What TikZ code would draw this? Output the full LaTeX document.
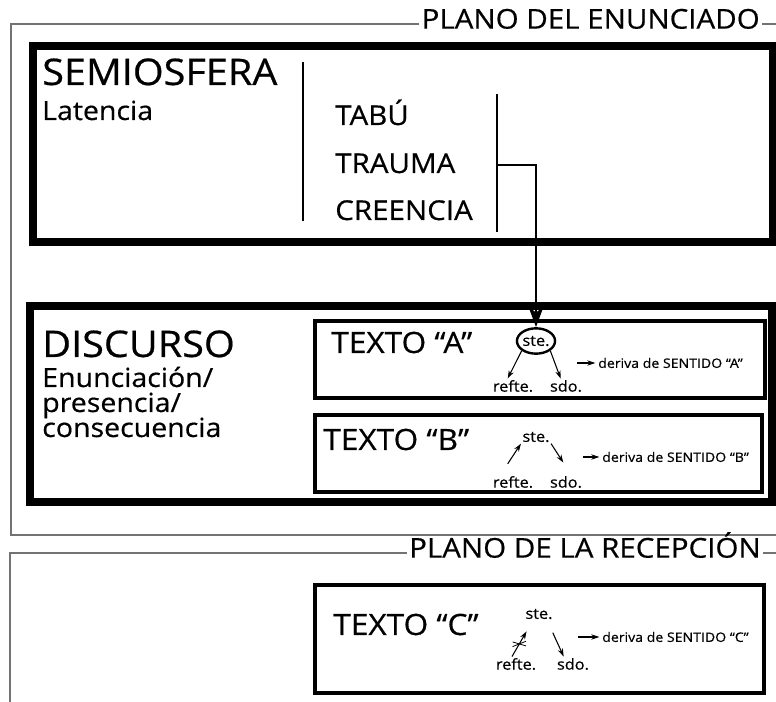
\documentclass[tikz,border=0pt]{standalone}
\usepackage{fontspec}
\setmainfont{Open Sans}[FakeStretch=1.08,FakeBold=0.5]
\usetikzlibrary{arrows.meta,shapes.geometric}

\tikzset{
  frame/.style={line width=1pt, black!55},
  bigbox/.style={line width=5.4pt},
  txtbox/.style={line width=3.4pt},
  bar/.style={line width=2.2pt},
  link/.style={line width=2.2pt, -{Stealth[length=15pt,width=11pt,inset=4pt]}},
  sarr/.style={line width=0.8pt, -{Stealth[length=6pt,width=4pt]}},
  plano/.style={inner sep=1.5pt, text height=0.7em, text depth=0pt, font=\fontsize{20.5}{20.5}\selectfont},
  lbl/.style={inner sep=0pt, anchor=base west},
  huge/.style={lbl, font=\fontsize{27.5}{27.5}\selectfont},
  sub/.style={lbl, font=\fontsize{19.8}{19.8}\selectfont},
  item/.style={lbl, font=\fontsize{20.5}{20.5}\selectfont},
  texto/.style={lbl, font=\fontsize{22}{22}\selectfont},
  sig/.style={inner sep=1pt, font=\fontsize{11.3}{11.3}\selectfont},
  deriva/.style={inner sep=0pt, anchor=west, font=\fontsize{9.8}{9.8}\selectfont},
}

\begin{document}
\begin{tikzpicture}[x=0.75pt,y=-0.75pt]
    \useasboundingbox (0,0) rectangle (776,702);

    % plano del enunciado
    \node[plano, anchor=east] (plano1) at (762,24) {PLANO DEL ENUNCIADO};
    \draw[frame] (plano1.west) -| (11,535) -- (776,535);
    \draw[frame] (plano1.east) -- (776,24);

    % semiosfera
    \draw[bigbox] (33,46) rectangle (773,242);
    \node[huge] (semiosfera) at (42,85) {SEMIOSFERA};
    \node[sub] (latencia) at (42,120) {Latencia};
    \draw[bar] (303,62) -- (303,221);
    \node[item] (tabu) at (335,125) {TABÚ};
    \node[item] (trauma) at (335,173) {TRAUMA};
    \node[item] (creencia) at (335,220) {CREENCIA};
    \draw[bar] (497,94) -- (497,232);
    \coordinate (branch) at (496,165);

    % discurso
    \draw[bigbox] (30,306) rectangle (772,502);
    \node[huge] (discurso) at (42,357) {DISCURSO};
    \node[sub] (enunciacion) at (42,387) {Enunciación/};
    \node[sub] (presencia) at (42,412) {presencia/};
    \node[sub] (consecuencia) at (42,437) {consecuencia};

    % texto A
    \draw[txtbox] (315,321) rectangle (765,398);
    \node[texto] (textoA) at (331,353) {TEXTO “A”};
    \node[sig, draw, ellipse, line width=1.8pt, minimum width=24pt, minimum height=19pt, inner sep=0pt] (steA) at (536,341) {ste.};
    \node[sig] (refteA) at (513,386) {refte.};
    \node[sig] (sdoA) at (566,386) {sdo.};
    \draw[sarr] (steA.south west) -- ([xshift=-4pt]refteA.north);
    \draw[sarr] (steA.south east) -- ([xshift=-4pt]sdoA.north);
    \coordinate (dA) at (577,363);
    \node[deriva] (derivaA) at (598,363) {deriva de SENTIDO “A”};
    \draw[sarr] (dA) -- ([xshift=-2pt]derivaA.west);
    \draw[link] (branch) -| (steA.north);

    % texto B
    \draw[txtbox] (315,415) rectangle (762,492);
    \node[texto] (textoB) at (323,450) {TEXTO “B”};
    \node[sig] (steB) at (536,437) {ste.};
    \node[sig] (refteB) at (513,482) {refte.};
    \node[sig] (sdoB) at (566,482) {sdo.};
    \draw[sarr] ([shift={(-4pt,8pt)}]refteB.north) -- (steB.south west);
    \draw[sarr] (steB.south east) -- ([shift={(-2pt,9pt)}]sdoB.north);
    \coordinate (dB) at (583,457);
    \node[deriva] (derivaB) at (602,457) {deriva de SENTIDO “B”};
    \draw[sarr] (dB) -- ([xshift=-2pt]derivaB.west);

    % plano de la recepcion
    \node[plano, anchor=east] (plano2) at (763,553) {PLANO DE LA RECEPCIÓN};
    \draw[frame] (plano2.west) -| (10,702);
    \draw[frame] (plano2.east) -- (776,553);

    % texto C
    \draw[txtbox] (315,585) rectangle (764,693);
    \node[texto] (textoC) at (333,635) {TEXTO “C”};
    \node[sig] (steC) at (539,614) {ste.};
    \node[sig] (refteC) at (516,664) {refte.};
    \node[sig] (sdoC) at (573,664) {sdo.};
    \draw[sarr] ([xshift=-3pt]refteC.north) -- coordinate (cut) ([shift={(2pt,-8pt)}]steC.south west);
    \draw[line width=0.6pt] ([shift={(-5pt,1.5pt)}]cut) -- ([shift={(5pt,-1.5pt)}]cut);
    \draw[line width=0.6pt] ([shift={(-5pt,-2pt)}]cut) -- ([shift={(5pt,2pt)}]cut);
    \draw[sarr] ([shift={(-1pt,-9pt)}]steC.south east) -- ([xshift=-7pt]sdoC.north);
    \coordinate (dC) at (578,637);
    \node[deriva] (derivaC) at (602,637) {deriva de SENTIDO “C”};
    \draw[sarr] (dC) -- ([xshift=-2pt]derivaC.west);
\end{tikzpicture}
\end{document}
